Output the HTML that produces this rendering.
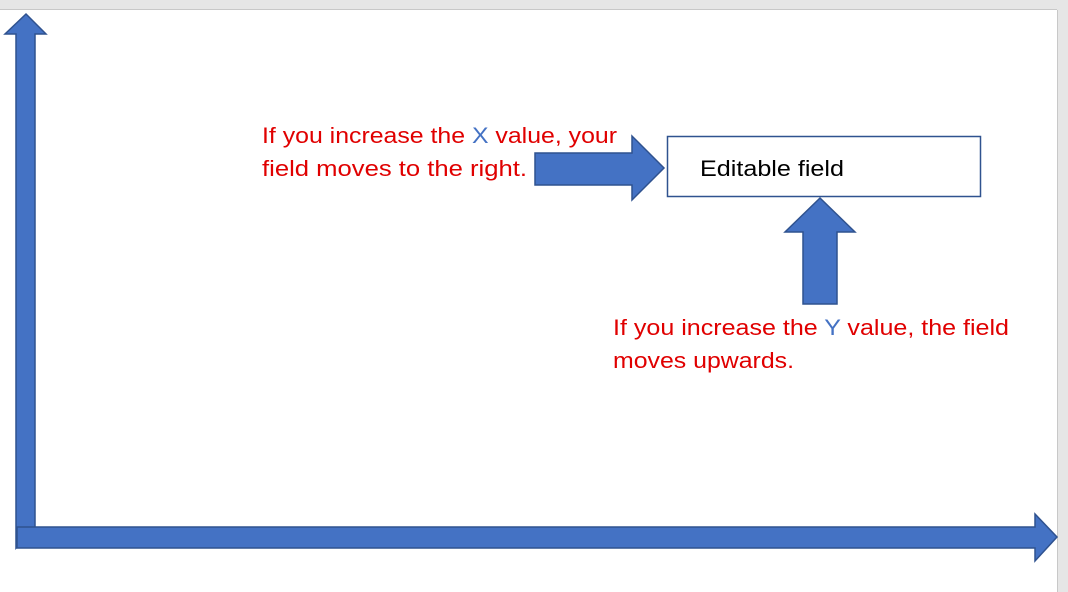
<!DOCTYPE html>
<html><head><meta charset="utf-8"><style>
html,body{margin:0;padding:0;background:#fff;}
svg{display:block;}
</style></head><body>
<svg width="1068" height="592" viewBox="0 0 1068 592" xmlns="http://www.w3.org/2000/svg">
<rect x="0" y="0" width="1068" height="592" fill="#e6e6e6"/>
<rect x="0" y="10" width="1057" height="582" fill="#ffffff"/>
<line x1="0" y1="9.5" x2="1057" y2="9.5" stroke="#c8c8c8" stroke-width="1"/>
<line x1="1057.5" y1="10" x2="1057.5" y2="592" stroke="#c8c8c8" stroke-width="1"/>
<g fill="#4472c4" stroke="#2f528f" stroke-width="1.5" stroke-linejoin="miter">
<polygon points="26,14 46,34 35,34 35,527 16,548 16,34 5,34"/>
<polygon points="17,527 1035,527 1035,514 1057,537 1035,561 1035,548 17,548"/>
<polygon points="535,153 632,153 632,136 664,168 632,200 632,185 535,185"/>
<polygon points="820,198 855,232 837,232 837,304 803,304 803,232 785,232"/>
</g>
<rect x="667.5" y="136.5" width="313" height="60" fill="#fff" stroke="#2f528f" stroke-width="1.5"/>
<g font-family="Liberation Sans, sans-serif" font-size="22.5">
<text x="700" y="176" fill="#000" textLength="144" lengthAdjust="spacingAndGlyphs">Editable field</text>
<text x="262" y="143" fill="#e00000" textLength="355" lengthAdjust="spacingAndGlyphs">If you increase the <tspan fill="#4472c4">X</tspan> value, your</text>
<text x="262" y="176" fill="#e00000" textLength="265" lengthAdjust="spacingAndGlyphs">field moves to the right.</text>
<text x="613" y="335" fill="#e00000" textLength="396" lengthAdjust="spacingAndGlyphs">If you increase the <tspan fill="#4472c4">Y</tspan> value, the field</text>
<text x="613" y="368" fill="#e00000" textLength="181" lengthAdjust="spacingAndGlyphs">moves upwards.</text>
</g>
</svg>
</body></html>
